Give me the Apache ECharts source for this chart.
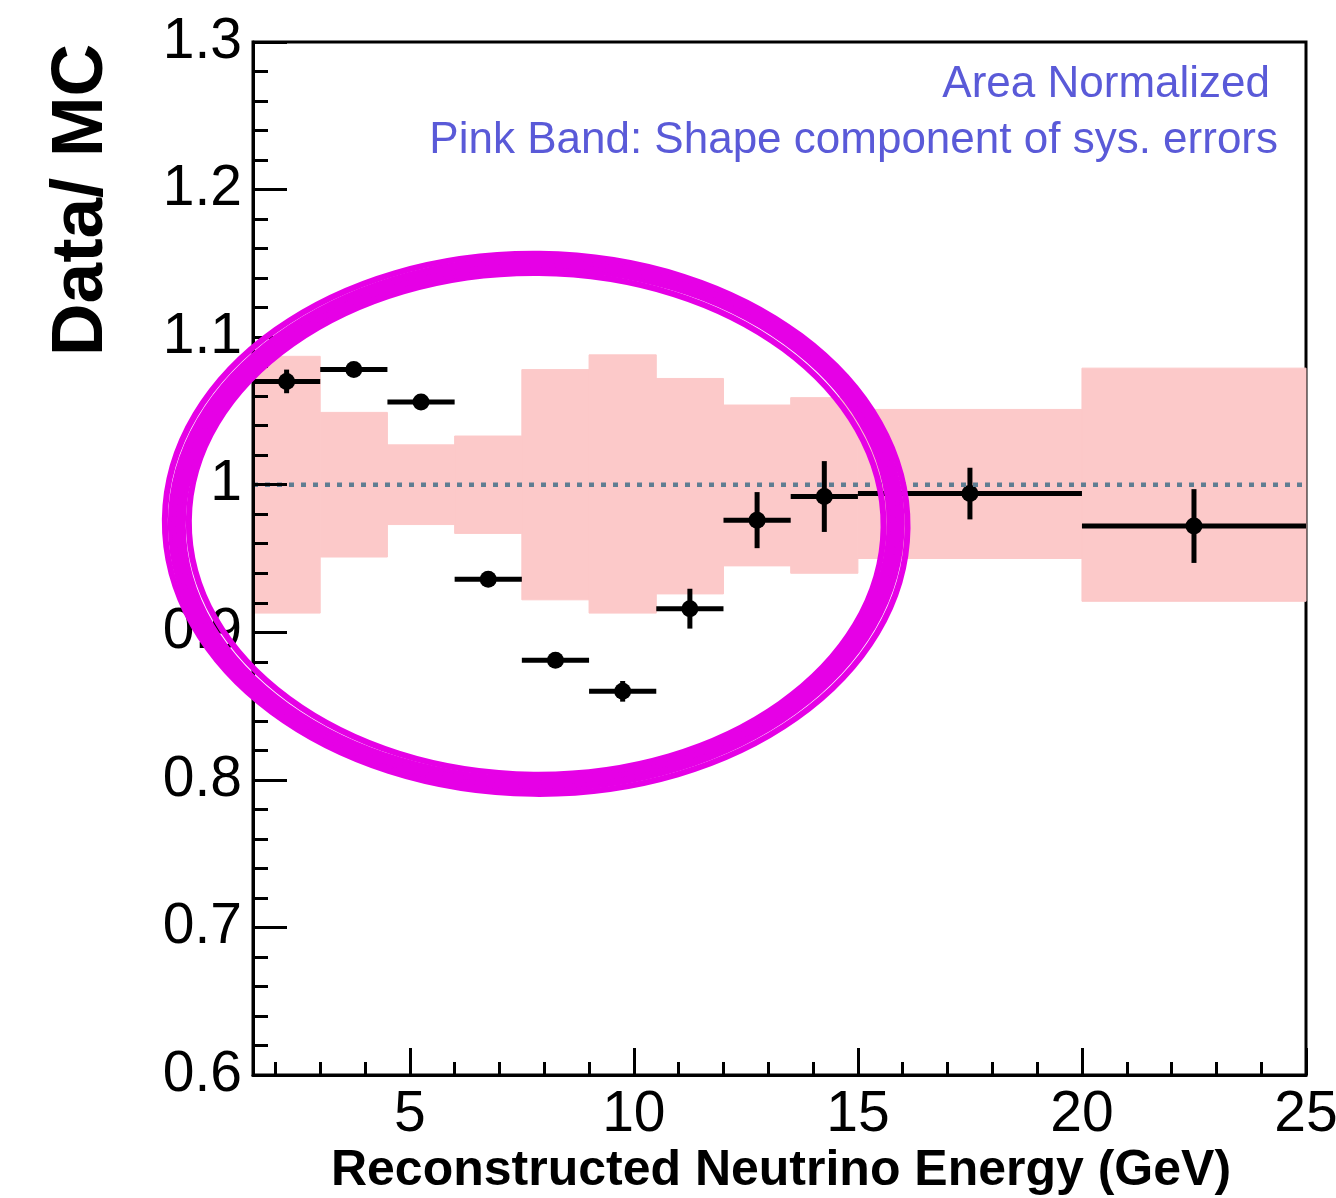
<!DOCTYPE html>
<html>
<head>
<meta charset="utf-8">
<script src="https://cdn.jsdelivr.net/npm/echarts@6/dist/echarts.min.js"></script>
<style>
  html, body { margin: 0; padding: 0; background: #fff; }
  #chart { width: 1336px; height: 1198px; }
</style>
</head>
<body>
<div id="chart"></div>
<script>
// ---- data ----
const binLow    = [1.5, 3, 4.5, 6, 7.5, 9, 10.5, 12, 13.5, 15, 20];
const binHigh   = [3, 4.5, 6, 7.5, 9, 10.5, 12, 13.5, 15, 20, 25];
const binCenter = [2.25, 3.75, 5.25, 6.75, 8.25, 9.75, 11.25, 12.75, 14.25, 17.5, 22.5];
const ratio     = [1.070, 1.078, 1.056, 0.936, 0.881, 0.860, 0.916, 0.976, 0.992, 0.994, 0.972];
const ratioErr  = [0.008, 0.004, 0.004, 0.004, 0.004, 0.007, 0.0135, 0.019, 0.024, 0.0175, 0.025];
const bandLow   = [0.913, 0.951, 0.973, 0.967, 0.922, 0.913, 0.926, 0.945, 0.940, 0.950, 0.921];
const bandHigh  = [1.087, 1.049, 1.027, 1.033, 1.078, 1.088, 1.072, 1.054, 1.059, 1.051, 1.079];
const refLine   = [[1.5, 1], [25, 1]];
const xMajorTicks = [5, 10, 15, 20, 25];
const xMinorTicks = [2, 3, 4, 6, 7, 8, 9, 11, 12, 13, 14, 16, 17, 18, 19, 21, 22, 23, 24];
const annotationLines = ['Area Normalized', 'Pink Band: Shape component of sys. errors'];
const xTitle = 'Reconstructed Neutrino Energy (GeV)';
const yTitle = 'Data/ MC';
// hand-drawn ellipse annotation, in data coordinates
const circleNote = { cx: 7.82, cy: 0.9735, rx: 8.02, ry: 0.1765 };

const FONT = '"Liberation Sans", Arial, Helvetica, sans-serif';
const chart = echarts.init(document.getElementById('chart'), null, { renderer: 'canvas' });

const bandData = binLow.map((x0, i) => [x0, binHigh[i], bandLow[i], bandHigh[i]]);
const pointData = binLow.map((x0, i) => [x0, binHigh[i], binCenter[i], ratio[i], ratioErr[i]]);

const option = {
  animation: false,
  backgroundColor: '#fff',
  grid: { left: 253, right: 30, top: 42, bottom: 123, outerBoundsMode: 'none', containLabel: false,
          show: true, borderColor: '#000', borderWidth: 3, backgroundColor: 'transparent' },
  xAxis: [
    {
      type: 'value', min: 1.5, max: 25, position: 'bottom', z: 10,
      axisLine: { show: true, lineStyle: { color: '#000', width: 3 } },
      axisTick: { show: true, inside: true, length: 27, customValues: xMajorTicks, lineStyle: { color: '#000', width: 3 } },
      axisLabel: { show: true, customValues: xMajorTicks, fontSize: 57, color: '#000', fontFamily: FONT, margin: 12 },
      splitLine: { show: false }
    },
    {
      type: 'value', min: 1.5, max: 25, position: 'bottom', offset: 0, z: 10,
      axisLine: { show: false },
      axisTick: { show: true, inside: true, length: 13, customValues: xMinorTicks, lineStyle: { color: '#000', width: 3 } },
      axisLabel: { show: false },
      splitLine: { show: false }
    }
  ],
  yAxis: {
    type: 'value', min: 0.6, max: 1.3, interval: 0.1, z: 10,
    axisLine: { show: true, lineStyle: { color: '#000', width: 3 } },
    axisTick: { show: true, inside: true, length: 34, lineStyle: { color: '#000', width: 3 } },
    minorTick: { show: true, splitNumber: 5, length: 15, lineStyle: { color: '#000', width: 3 } },
    axisLabel: { fontSize: 57, color: '#000', fontFamily: FONT, margin: 11 },
    splitLine: { show: false }
  },
  series: [
    {
      type: 'custom', name: 'band', xAxisIndex: 0, z: 1,
      data: bandData,
      encode: { x: [0, 1], y: [2, 3] },
      renderItem: function (params, api) {
        const p0 = api.coord([api.value(0), api.value(3)]);
        const p1 = api.coord([api.value(1), api.value(2)]);
        return {
          type: 'rect',
          shape: { x: p0[0], y: p0[1], width: p1[0] - p0[0], height: p1[1] - p0[1] },
          style: { fill: '#fcc9c9', stroke: '#fcc9c9', lineWidth: 1 }
        };
      }
    },
    {
      type: 'custom', name: 'data', xAxisIndex: 0, z: 3,
      data: pointData,
      encode: { x: [0, 1, 2], y: [3] },
      renderItem: function (params, api) {
        const x0 = api.value(0), x1 = api.value(1), xc = api.value(2), y = api.value(3), e = api.value(4);
        const a = api.coord([x0, y]), b = api.coord([x1, y]);
        const c = api.coord([xc, y]);
        const up = api.coord([xc, y + e]), dn = api.coord([xc, y - e]);
        return {
          type: 'group',
          children: [
            { type: 'line', shape: { x1: a[0], y1: a[1], x2: b[0], y2: b[1] }, style: { stroke: '#000', lineWidth: 5 } },
            { type: 'line', shape: { x1: up[0], y1: up[1], x2: dn[0], y2: dn[1] }, style: { stroke: '#000', lineWidth: 5 } },
            { type: 'circle', shape: { cx: c[0], cy: c[1], r: 8.5 }, style: { fill: '#000' } }
          ]
        };
      }
    },
    {
      type: 'line', name: 'ref', xAxisIndex: 0, z: 4,
      data: refLine, symbol: 'none', silent: true,
      lineStyle: { color: '#5f7d92', width: 4.5, type: [5, 7], cap: 'butt' }
    }
  ]
};
chart.setOption(option);

// text + hand-drawn ellipse annotation
const pcx = chart.convertToPixel({ xAxisIndex: 0 }, circleNote.cx);
const pcy = chart.convertToPixel({ yAxisIndex: 0 }, circleNote.cy);
const prx = chart.convertToPixel({ xAxisIndex: 0 }, circleNote.cx + circleNote.rx) - pcx;
const pry = pcy - chart.convertToPixel({ yAxisIndex: 0 }, circleNote.cy + circleNote.ry);

const strokes = [
  { d: -12, rot: -0.010, w: 6 },
  { d: -6, rot: 0.006, w: 6 },
  { d: 0, rot: -0.018, w: 7 },
  { d: 6, rot: 0.000, w: 6 },
  { d: 12, rot: -0.012, w: 6 },
  { d: -2, rot: 0.012, w: 5 },
  { d: 3, rot: -0.006, w: 4 }
];
const ellipses = strokes.map((s) => ({
  type: 'ellipse', z: 100, x: pcx, y: pcy, rotation: s.rot, originX: 0, originY: 0,
  shape: { cx: 0, cy: 0, rx: prx + s.d, ry: pry + s.d * 0.8 },
  style: { fill: null, stroke: '#e600e6', lineWidth: s.w }
}));

chart.setOption({
  graphic: [
    { type: 'text', z: 50, x: 1270, y: 85, style: { text: annotationLines[0], fill: '#5a5ad8', font: '44px ' + FONT, textAlign: 'right', textVerticalAlign: 'middle' } },
    { type: 'text', z: 50, x: 1278, y: 141, style: { text: annotationLines[1], fill: '#5a5ad8', font: '44px ' + FONT, textAlign: 'right', textVerticalAlign: 'middle' } },
    { type: 'text', z: 50, x: 781, y: 1171, style: { text: xTitle, fill: '#000', font: 'bold 50px ' + FONT, textAlign: 'center', textVerticalAlign: 'middle' } },
    { type: 'text', z: 50, x: 82, y: 200, rotation: Math.PI / 2, style: { text: yTitle, fill: '#000', font: 'bold 73px ' + FONT, textAlign: 'center', textVerticalAlign: 'middle' } }
  ].concat(ellipses)
});
</script>
</body>
</html>
